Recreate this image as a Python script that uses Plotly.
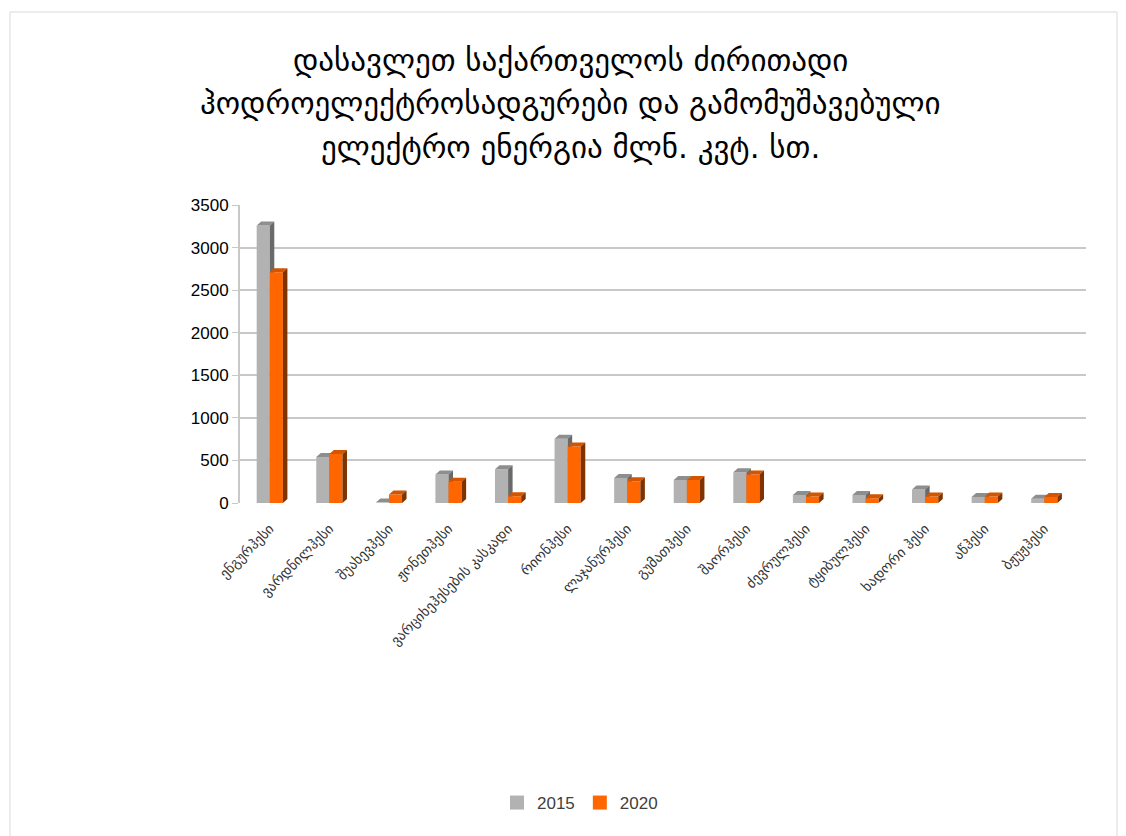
import plotly.graph_objects as go

# Hydro power plants and electricity output, million kWh
plants = [
    "ენგურჰესი", "ვარდნილჰესი", "შუახევჰესი", "ჟონეთჰესი",
    "ვარციხეჰესების კასკადი", "რიონჰესი", "ლაჯანურჰესი", "გუმათჰესი",
    "შაორჰესი", "ძევრულჰესი", "ტყიბულჰესი", "ხადორი ჰესი", "აწჰესი", "ბჟუჟჰესი",
]
output_2015 = [3260, 540, 5, 335, 395, 755, 295, 270, 360, 95, 95, 160, 70, 50]
output_2020 = [2710, 575, 100, 250, 80, 665, 255, 270, 335, 75, 55, 75, 75, 70]
series_names = ["2015", "2020"]
y_ticks = [0, 500, 1000, 1500, 2000, 2500, 3000, 3500]

# colours: front, top, side faces of each series
grey = ("#B2B2B2", "#8E8E8E", "#6A6A6A")
orange = ("#FF6600", "#D45500", "#7F3300")

# pixel geometry of the plotting area
L, R, T, B = 240, 1086, 205, 503
W, H = 1126, 836
n = len(plants)
x_lo, x_hi = -0.5, n - 0.5 + 0.2
px_per_cat = (R - L) / (x_hi - x_lo)
px_per_val = (B - T) / 3500.0
bar_w = 0.22
dx = 4.5 / px_per_cat      # depth offset in category units
dy = 4.0 / px_per_val      # depth offset in value units


def faces(values, shift):
    front_x, front_y, top_x, top_y, side_x, side_y = [], [], [], [], [], []
    for i, v in enumerate(values):
        x0 = i + shift - bar_w / 2
        x1 = i + shift + bar_w / 2
        front_x += [x0, x1, x1, x0, x0, None]
        front_y += [0, 0, v, v, 0, None]
        top_x += [x0, x1, x1 + dx, x0 + dx, x0, None]
        top_y += [v, v, v + dy, v + dy, v, None]
        side_x += [x1, x1 + dx, x1 + dx, x1, x1, None]
        side_y += [0, dy, v + dy, v, 0, None]
    return (front_x, front_y), (top_x, top_y), (side_x, side_y)


fig = go.Figure()
for values, shift, cols in ((output_2015, -bar_w / 2, grey), (output_2020, bar_w / 2, orange)):
    for (xs, ys), col in zip(faces(values, shift), cols):
        fig.add_trace(go.Scatter(
            x=xs, y=ys, mode="lines", fill="toself", fillcolor=col,
            line=dict(width=0, color=col), showlegend=False, hoverinfo="skip",
        ))

# legend entries
for name, cols in zip(series_names, (grey, orange)):
    fig.add_trace(go.Scatter(
        x=[None], y=[None], mode="markers", name=name,
        marker=dict(symbol="square", size=14, color=cols[0]),
    ))


def px_x(p):
    return (p - L) / (R - L)


def px_y(p):
    return (B - p) / (B - T)


title_lines = [
    "დასავლეთ საქართველოს ძირითადი",
    "ჰოდროელექტროსადგურები და გამომუშავებული",
    "ელექტრო ენერგია მლნ. კვტ. სთ.",
]
annotations = []
for line, ypx in zip(title_lines, (60, 103, 147)):
    annotations.append(dict(
        text=line, xref="paper", yref="paper", x=px_x(570), y=px_y(ypx),
        xanchor="center", yanchor="middle", showarrow=False,
        font=dict(family="DejaVu Sans", size=31, color="#000000"),
    ))

fig.update_layout(
    width=W, height=H,
    margin=dict(l=L, r=W - R, t=T, b=H - B, pad=0),
    paper_bgcolor="white", plot_bgcolor="white",
    showlegend=True,
    legend=dict(
        orientation="h", x=px_x(580), y=px_y(803), xanchor="center", yanchor="middle",
        font=dict(family="Liberation Sans", size=17, color="#404040"),
        itemwidth=30, tracegroupgap=0,
    ),
    annotations=annotations,
    shapes=[dict(
        type="rect", xref="paper", yref="paper",
        x0=px_x(10), x1=px_x(1117), y0=px_y(845), y1=px_y(12),
        line=dict(color="#D9D9D9", width=1), fillcolor="rgba(0,0,0,0)", layer="below",
    )],
    xaxis=dict(
        range=[x_lo, x_hi], tickmode="array",
        tickvals=list(range(n)), ticktext=plants, tickangle=-45,
        tickfont=dict(family="DejaVu Sans", size=14, color="#333333"),
        ticklabelstandoff=14,
        showgrid=False, zeroline=False, showline=False, ticks="",
        fixedrange=True,
    ),
    yaxis=dict(
        range=[0, 3500], tickmode="array", tickvals=y_ticks,
        ticktext=[str(t) for t in y_ticks],
        tickfont=dict(family="Liberation Sans", size=17, color="#000000"),
        showgrid=True, gridcolor="#C8C8C8", gridwidth=2,
        zeroline=False, showline=True, linecolor="#C8C8C8", linewidth=2,
        ticks="outside", ticklen=6, tickcolor="#C8C8C8", fixedrange=True,
    ),
)

fig.write_html("out.html")
